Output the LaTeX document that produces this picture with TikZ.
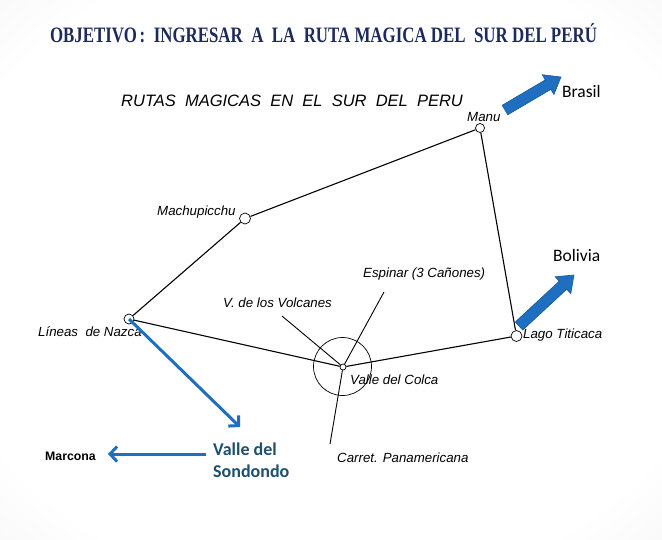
\documentclass[tikz,border=0pt]{standalone}
\usepackage{fontspec}
\usepackage{graphicx}
\setmainfont{Liberation Serif}
\newfontfamily\arialf{Liberation Sans}
\newfontfamily\calib{Carlito}
\usetikzlibrary{arrows.meta,calc}
\definecolor{titlenavy}{HTML}{1C2A5E}
\definecolor{arrowblue}{HTML}{1F6FC0}
\definecolor{arrowedge}{HTML}{1A5896}
\definecolor{sondcol}{HTML}{1D4F6E}
\pgfdeclareradialshading{bgshade}{\pgfpoint{0bp}{0bp}}{color(0bp)=(white); color(30bp)=(white); color(71bp)=(black!16)}
\newcommand\blockarr[2]{%
  \coordinate (bh) at ($(#2)!15pt!(#1)$);
  \path[blockarrow]
    ($(#1)!5.5pt!90:(#2)$) -- ($(bh)!5.5pt!90:(#2)$) -- ($(bh)!11.5pt!90:(#2)$) --
    (#2) -- ($(bh)!11.5pt!-90:(#2)$) -- ($(bh)!5.5pt!-90:(#2)$) --
    ($(#1)!5.5pt!-90:(#2)$) -- cycle;}
\begin{document}
\begin{tikzpicture}[x=1pt,y=-1pt,
  lbl/.style={font=\arialf\itshape\fontsize{13.3}{15}\selectfont, inner sep=0pt, anchor=base west},
  place/.style={circle, draw, line width=0.7pt, inner sep=0pt, minimum size=#1},
  place/.default=10pt,
  road/.style={line width=1.1pt},
  spoke/.style={line width=0.9pt},
  bluearrow/.style={draw=arrowblue, line width=3pt, -{Straight Barb[length=7pt,width=15pt]}},
  blockarrow/.style={fill=arrowblue, draw=arrowedge, line width=0.6pt, line join=miter},
  country/.style={font=\calib\fontsize{17.5}{20}\selectfont, inner sep=0pt, anchor=base west},
  sond/.style={font=\calib\bfseries\fontsize{18}{20}\selectfont, text=sondcol, inner sep=0pt, anchor=base west}]
\useasboundingbox (0,0) rectangle (662,539);
\shade[shading=bgshade] (0,0) rectangle (662,539);
\fill[white] (13,70) rectangle (638,475);

% title
\node[anchor=base, inner sep=0pt, text=titlenavy] (title) at (323.5,42.3)
  {\resizebox{547pt}{\height}{\bfseries\fontsize{22}{24}\selectfont OBJETIVO\,:\ \ INGRESAR\ \ A\ \ LA\ \ RUTA MAGICA DEL\ \ SUR DEL PER\'U}};

\node[anchor=base west, inner sep=0pt, font=\arialf\itshape\fontsize{16.5}{18}\selectfont] (sub) at (121,106)
  {RUTAS\ \ MAGICAS\ \ EN\ \ EL\ \ SUR\ \ DEL\ \ PERU};

% places
\node[place=9pt] (manu) at (480,128) {};
\node[place=11pt] (machu) at (245,218.5) {};
\node[place=10pt] (nazca) at (129,319) {};
\node[place=6pt] (colca) at (343,367) {};
\node[circle, draw, line width=0.7pt, inner sep=0pt, minimum size=58pt] (colcaring) at (342.5,366.5) {};
\node[place=11pt] (titi) at (516.5,336) {};

% roads
\draw[road] (nazca) -- (machu);
\draw[road] (machu) -- (manu);
\draw[road] (manu) -- (titi);
\draw[road] (titi) -- (colca);
\draw[road] (colca) -- (nazca);

% spokes
\coordinate (volcend) at (282,316);
\coordinate (espend) at (384,292);
\coordinate (panend) at (330,444);
\draw[spoke] (colca) -- (volcend);
\draw[spoke] (colca) -- (espend);
\draw[spoke] (colca) -- (panend);

% labels
\node[lbl] (lmanu) at (467,121.7) {Manu};
\node[lbl] (lmachu) at (157,215.5) {Machupicchu};
\node[lbl] (lnazca) at (38,336.7) {Líneas\ \ de Nazca};
\node[lbl] (lvolc) at (223,307.7) {V. de los Volcanes};
\node[lbl] (lesp) at (363,277.7) {Espinar (3 Cañones)};
\node[lbl] (lcolca) at (350,384.7) {Valle del Colca};
\node[lbl] (ltiti) at (523,338.7) {Lago Titicaca};
\node[lbl] (lpan) at (337,462.7) {Carret. Panamericana};

% countries
\node[country] (brasil) at (562,97.8) {Brasil};
\node[country] (bolivia) at (553,261) {Bolivia};
\coordinate (brT) at (505,110);
\coordinate (brP) at (561,77);
\blockarr{brT}{brP}
\coordinate (boT) at (519,326);
\coordinate (boP) at (574,275);
\blockarr{boT}{boP}

% Sondondo
\node[sond] (sond1) at (213,455) {Valle del};
\node[sond] (sond2) at (213,477) {Sondondo};
\node[anchor=base west, inner sep=0pt, font=\arialf\bfseries\fontsize{12.3}{13}\selectfont] (marcona) at (45,460) {Marcona};
\coordinate (sondtip) at (240,427);
\coordinate (marcstart) at (206,454);
\coordinate (marctip) at (108,454);
\draw[bluearrow] (nazca.center) -- (sondtip);
\draw[bluearrow] (marcstart) -- (marctip);
\end{tikzpicture}
\end{document}
